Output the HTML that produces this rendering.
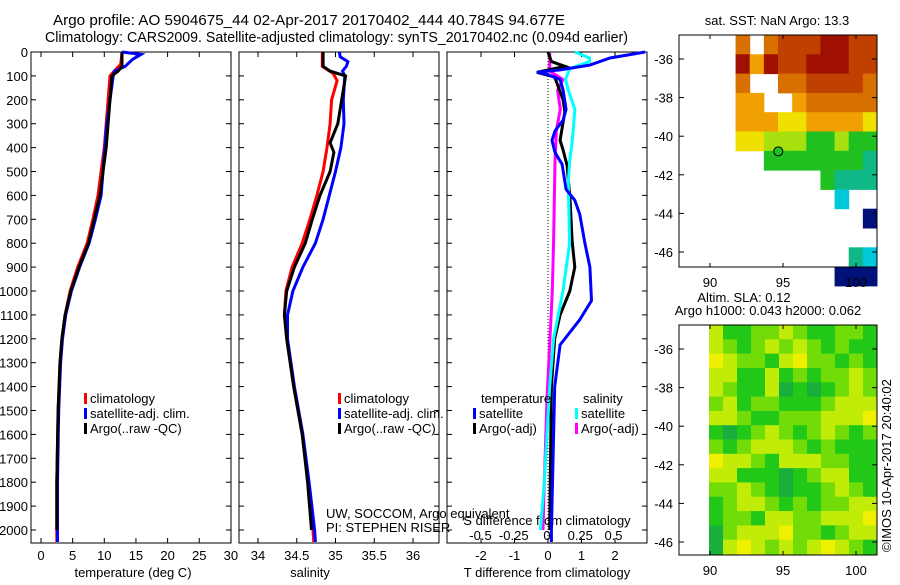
<!DOCTYPE html>
<html><head><meta charset="utf-8">
<style>
body{margin:0;background:#fff;}
svg text{font-family:"Liberation Sans",sans-serif;font-size:13px;fill:#000;}
</style></head>
<body>
<svg id="fig" width="900" height="580" xmlns="http://www.w3.org/2000/svg">
<text x="53" y="25" textLength="512" lengthAdjust="spacingAndGlyphs" style="font-size:14.5px">Argo profile: AO 5904675_44 02-Apr-2017 20170402_444 40.784S 94.677E</text>
<text x="45" y="42" textLength="583" lengthAdjust="spacingAndGlyphs" style="font-size:14.5px">Climatology: CARS2009. Satellite-adjusted climatology: synTS_20170402.nc (0.094d earlier)</text>
<g id="g"></g>
</svg>
<script>
// ---- data ----
const depthTicks=[0,100,200,300,400,500,600,700,800,900,1000,1100,1200,1300,1400,1500,1600,1700,1800,1900,2000];
const tempTicks=[0,5,10,15,20,25,30];
const salTicks=[34,34.5,35,35.5,36];
const tdiffTicks=[-2,-1,0,1,2];
const sdiffTicks=[-0.5,-0.25,0,0.25,0.5];
const sdiffLabels=["-0.5","-0.25","0","0.25","0.5"];
const latTicks=[-36,-38,-40,-42,-44,-46];
const lonTicks=[90,95,100];

const tClimD=[0,50,100,200,300,400,500,600,700,800,900,1000,1100,1200,1300,1500,1800,2000,2050];
const tClimV=[12.8,12.6,10.9,10.6,10.3,10.0,9.5,9.0,8.2,7.3,5.8,4.6,3.8,3.3,3.0,2.7,2.5,2.5,2.5];
const tSatD=[0,10,30,60,80,100,200,300,400,500,600,700,800,900,1000,1100,1200,1300,1500,1800,2000,2050];
const tSatV=[12.8,15.8,14.5,13.3,11.6,11.4,10.9,10.4,10.1,9.8,9.5,8.6,7.6,6.1,4.8,3.9,3.4,3.1,2.8,2.6,2.6,2.6];
const tArgD=[0,60,80,100,200,300,400,500,600,700,800,900,1000,1100,1200,1300,1500,1800,2000];
const tArgV=[12.8,12.8,12.2,11.2,10.9,10.6,10.3,9.8,9.3,8.4,7.5,6.0,4.7,3.8,3.3,3.0,2.7,2.5,2.5];

const sClimD=[0,60,90,120,200,300,400,500,600,700,800,900,1000,1100,1200,1400,1600,1800,2000,2050];
const sClimV=[34.83,34.83,34.97,35.02,34.95,34.93,34.89,34.84,34.76,34.67,34.57,34.44,34.36,34.34,34.37,34.46,34.57,34.65,34.71,34.72];
const sSatD=[0,20,40,60,80,100,200,300,400,500,600,700,800,900,1000,1100,1200,1400,1600,1800,2000,2050];
const sSatV=[35.05,35.06,35.16,35.14,35.09,35.12,35.1,35.11,35.07,35.0,34.92,34.84,34.74,34.58,34.45,34.38,34.38,34.47,34.58,34.66,34.73,34.74];
const sArgD=[0,60,80,100,200,300,380,420,500,600,700,800,900,1000,1100,1200,1400,1600,1800,2000];
const sArgV=[34.84,34.84,34.93,35.13,35.08,35.03,34.93,34.98,34.93,34.8,34.7,34.61,34.47,34.37,34.34,34.37,34.46,34.57,34.64,34.69];

const dTSatD=[0,25,55,75,85,95,115,160,240,285,330,370,420,470,575,620,680,800,900,1040,1120,1225,1400,2000,2050];
const dTSatV=[2.9,1.85,1.25,0.36,-0.33,0,0.36,0.45,0.54,0.45,0.21,0.12,0.21,0.42,0.54,0.8,0.95,1.1,1.25,1.3,0.95,0.36,0.2,0.1,0.1];
const dTArgD=[0,40,60,85,105,200,250,370,410,475,620,790,900,1000,1100,1200,1400,2000];
const dTArgV=[0,0.1,0.5,-0.33,0.2,0.45,0.5,0.36,0.45,0.57,0.66,0.72,0.8,0.65,0.36,0.2,0.1,0.05];
const dSSatD=[0,25,40,70,115,160,240,370,460,550,800,1000,1200,1400,1600,1800,2000];
const dSSatV=[0.21,0.32,0.32,0.17,0.14,0.16,0.21,0.19,0.17,0.16,0.17,0.12,0.05,0.02,0.0,-0.02,-0.05];
const dSArgD=[0,80,115,160,240,330,460,790,1000,1450,1800,2000];
const dSArgV=[0.02,0.02,0.12,0.08,0.1,0.07,0.06,0.05,0.04,0.0,-0.02,-0.03];

// SST map grid (rows top->bottom, lat -34.8..-46.8; 14 cols lon 88..101.5); '.'=no data
const sstRows=[
"....7.78889988",
"....9698899988",
"....7..7788887",
"....66..677777",
"....6665566665",
"....5544433433",
"......33333332",
"..........3222",
"...........1..",
".............0",
"..............",
"............21",
"...........000"];
const sstColors=["#00127a","#00c8d8","#10b888","#20c020","#a8e010","#f0e000","#f0a000","#d87000","#c04000","#a01000"];
// SLA grid (16 rows x 12 cols)
const slaRows=[
"311223211221","321232321211","432213422121","331131212232","321130101232",
"231221112333","332112223334","101232123212","212333212111","433213332211",
"331110123311","223210112321","123321212233","122133223334","023334221233","034323234321"];
const slaColors=["#1aae3c","#22c818","#72dc08","#c0ec08","#eef000","#f0c000"];

// ---- helpers ----
const NS="http://www.w3.org/2000/svg";
const G=document.getElementById('g');
function mk(tag,attrs,parent){const e=document.createElementNS(NS,tag);for(const k in attrs)e.setAttribute(k,attrs[k]);(parent||G).appendChild(e);return e;}
function txt(x,y,s,anchor,name,size){const t=mk('text',{x:x,y:y,'text-anchor':anchor||'start'});if(size)t.style.fontSize=size;t.textContent=s;


return t;}
const yD=d=>52+d*0.239;
const panels=[{x0:31,x1:231},{x0:239,x1:439},{x0:447,x1:647}];
const xT=v=>41+6.33*v, xS=v=>258+77.5*(v-34), xdT=v=>548+33.5*v, xdS=v=>547+133*v;

panels.forEach((p,i)=>{
  const r=mk('rect',{x:p.x0,y:52,width:p.x1-p.x0,height:491,fill:'none',stroke:'#000','stroke-width':1});
  
  
  depthTicks.forEach(d=>{
    mk('line',{x1:p.x0,x2:p.x0+5,y1:yD(d),y2:yD(d),stroke:'#000'});
    mk('line',{x1:p.x1,x2:p.x1-5,y1:yD(d),y2:yD(d),stroke:'#000'});
    if(i===0) txt(p.x0-3,yD(d)+5,String(d),'end','depth-tick-label');
  });
});
function xticks(arr,f,labels,ly,name,top){arr.forEach((v,k)=>{const x=f(v);
  mk('line',{x1:x,x2:x,y1:543,y2:538,stroke:'#000'});
  if(top) mk('line',{x1:x,x2:x,y1:52,y2:57,stroke:'#000'});
  if(ly) txt(x,ly,labels?labels[k]:String(v),'middle',name);});}
xticks(tempTicks,xT,null,560,'temperature-tick-label',true);
xticks(salTicks,xS,null,560,'salinity-tick-label',true);
xticks(tdiffTicks,xdT,null,560,'tdiff-tick-label',true);
sdiffTicks.forEach((v,k)=>txt(xdS(v),540,sdiffLabels[k],'middle','sdiff-tick-label'));
txt(133,577,'temperature (deg C)','middle','temperature-axis-title');
txt(310,577,'salinity','middle','salinity-axis-title');
txt(547,577,'T difference from climatology','middle','tdiff-axis-title');
txt(547,525,'S difference from climatology','middle','sdiff-axis-title');

const z=mk('line',{x1:548,x2:548,y1:52,y2:543,stroke:'#000','stroke-dasharray':'1,2'});



function series(D,V,f,color,name){
  const pts=D.map((d,k)=>f(V[k]).toFixed(1)+','+yD(d).toFixed(1)).join(' ');
  const l=mk('polyline',{points:pts,fill:'none',stroke:color,'stroke-width':3,'stroke-linejoin':'miter'});
  
  
}
series(tClimD,tClimV,xT,'#f00','temp-climatology-line');
series(tSatD,tSatV,xT,'#00f','temp-satellite-line');
series(tArgD,tArgV,xT,'#000','temp-argo-line');
series(sClimD,sClimV,xS,'#f00','sal-climatology-line');
series(sSatD,sSatV,xS,'#00f','sal-satellite-line');
series(sArgD,sArgV,xS,'#000','sal-argo-line');
series(dSArgD,dSArgV,xdS,'#f0f','sdiff-argo-line');
series(dTArgD,dTArgV,xdT,'#000','tdiff-argo-line');
series(dSSatD,dSSatV,xdS,'#0ff','sdiff-satellite-line');
series(dTSatD,dTSatV,xdT,'#00f','tdiff-satellite-line');

function leg(x,y,color,label,name){const r=mk('rect',{x:x,y:y-10,width:3,height:11,fill:color});
  
  
  txt(x+6,y,label,'start',name);}
[[84,'climatology','#f00'],[84,'satellite-adj. clim.','#00f'],[84,'Argo(..raw -QC)','#000']].forEach((a,k)=>leg(a[0],403+k*15,a[2],a[1],'legend-entry'));
[[338,'climatology','#f00'],[338,'satellite-adj. clim.','#00f'],[338,'Argo(..raw -QC)','#000']].forEach((a,k)=>leg(a[0],403+k*15,a[2],a[1],'legend-entry'));
txt(481,403,'temperature','start','legend-heading');
txt(583,403,'salinity','start','legend-heading');
leg(473,418,'#00f','satellite','legend-entry');
leg(473,433,'#000','Argo(-adj)','legend-entry');
leg(575,418,'#0ff','satellite','legend-entry');
leg(575,433,'#f0f','Argo(-adj)','legend-entry');
txt(326,518,'UW, SOCCOM, Argo equivalent','start','pi-institution');
txt(326,532,'PI: STEPHEN RISER','start','pi-name');

const xL=v=>710+14.6*(v-90);
function mapAxes(y0,y1,latRef,name){
  const yLat=v=>latRef+19.3*(-36-v);
  const r=mk('rect',{x:679,y:y0,width:198,height:y1-y0,fill:'none',stroke:'#000'});
  
  
  latTicks.forEach(v=>{const y=yLat(v);mk('line',{x1:679,x2:684,y1:y,y2:y,stroke:'#000'});mk('line',{x1:877,x2:872,y1:y,y2:y,stroke:'#000'});
    txt(673,y+5,String(v),'end','lat-tick-label');});
  lonTicks.forEach(v=>{const x=xL(v);mk('line',{x1:x,x2:x,y1:y0,y2:y0+4,stroke:'#000'});mk('line',{x1:x,x2:x,y1:y1,y2:y1-4,stroke:'#000'});
    txt(x,y1+20,String(v),'middle','lon-tick-label');});
}
const cw=198/14,ch=19.3;
sstRows.forEach((row,ri)=>{for(let ci=0;ci<row.length;ci++){const c=row[ci];if(c==='.')continue;
  const r=mk('rect',{x:679+ci*cw,y:35+ri*ch,width:cw+0.5,height:ch+0.5,fill:sstColors[+c]});
  
  }});
mapAxes(35,267,59,'sst-map');
const pt=mk('circle',{cx:xL(94.677),cy:59+19.3*(40.784-36),r:4.5,fill:'#20c020',stroke:'#000'});


txt(777,25,'sat. SST: NaN Argo: 13.3','middle','sst-map-title');
const sw=168/12,sh=229/16;
slaRows.forEach((row,ri)=>{for(let ci=0;ci<row.length;ci++){
  const r=mk('rect',{x:709+ci*sw,y:325+ri*sh,width:sw+0.5,height:sh+0.5,fill:slaColors[+row[ci]]});
  
  }});
mapAxes(325,555,349,'sla-map');
txt(744,302,'Altim. SLA: 0.12','middle','sla-map-title');
txt(768,315,'Argo h1000: 0.043 h2000: 0.062','middle','sla-map-subtitle');
const v=txt(0,0,'©IMOS 10-Apr-2017 20:40:02','start','imos-timestamp');
v.setAttribute('transform','translate(891,552) rotate(-90)');
</script>
</body></html>
